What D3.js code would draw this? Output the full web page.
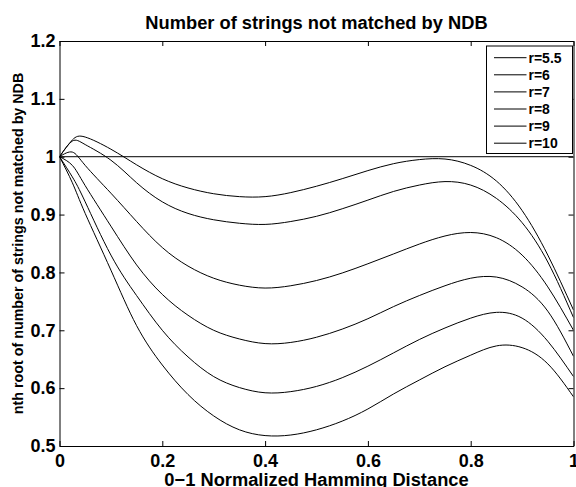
<!DOCTYPE html>
<html>
<head>
<meta charset="utf-8">
<script src="https://cdn.jsdelivr.net/npm/d3@7"></script>
<style>
  body { margin: 0; background: #fff; }
  text { font-family: "Liberation Sans", Arial, Helvetica, sans-serif; font-weight: bold; fill: #000; }
  .axis path, .axis line { stroke: #000; stroke-width: 1; }
</style>
</head>
<body>
<div id="chart"></div>
<script>
// Hamming distance samples (0-1 normalized)
const xs = [0, 0.025, 0.05, 0.1, 0.15, 0.2, 0.25, 0.3, 0.35, 0.4, 0.45, 0.5,
            0.55, 0.6, 0.65, 0.7, 0.75, 0.8, 0.85, 0.9, 0.95, 1];

// nth root of number of strings not matched
const r55 = [1.000, 1.029, 1.034, 1.013, 0.986, 0.962, 0.946, 0.936, 0.931, 0.931, 0.938, 0.949,
             0.962, 0.976, 0.988, 0.995, 0.996, 0.985, 0.958, 0.907, 0.830, 0.735];
const r6  = [1.000, 1.027, 1.021, 0.994, 0.955, 0.922, 0.902, 0.891, 0.885, 0.883, 0.888, 0.897,
             0.910, 0.925, 0.940, 0.951, 0.957, 0.951, 0.928, 0.886, 0.818, 0.722];
const r7  = [1.000, 1.008, 0.985, 0.937, 0.888, 0.843, 0.811, 0.790, 0.778, 0.773, 0.777, 0.786,
             0.799, 0.815, 0.832, 0.849, 0.863, 0.869, 0.860, 0.830, 0.775, 0.700];
const r8  = [1.000, 0.985, 0.950, 0.880, 0.813, 0.762, 0.726, 0.700, 0.685, 0.677, 0.679, 0.688,
             0.702, 0.720, 0.741, 0.760, 0.777, 0.790, 0.792, 0.775, 0.733, 0.655];
const r9  = [1.000, 0.965, 0.922, 0.830, 0.760, 0.700, 0.654, 0.620, 0.601, 0.592, 0.594, 0.603,
             0.618, 0.638, 0.661, 0.684, 0.704, 0.721, 0.731, 0.721, 0.681, 0.620];
const r10 = [1.000, 0.955, 0.902, 0.804, 0.708, 0.640, 0.589, 0.552, 0.528, 0.518, 0.519, 0.528,
             0.543, 0.564, 0.590, 0.614, 0.637, 0.657, 0.673, 0.670, 0.642, 0.585];

const seriesNames = ["r=5.5", "r=6", "r=7", "r=8", "r=9", "r=10"];
const seriesValues = [r55, r6, r7, r8, r9, r10];

// reference line at 1
const refX = [0, 1];
const refY = [1, 1];

const xTicks = [0, 0.2, 0.4, 0.6, 0.8, 1];
const xTickLabels = ["0", "0.2", "0.4", "0.6", "0.8", "1"];
const yTicks = [0.5, 0.6, 0.7, 0.8, 0.9, 1.0, 1.1, 1.2];
const yTickLabels = ["0.5", "0.6", "0.7", "0.8", "0.9", "1", "1.1", "1.2"];

const W = 576, H = 487;
const plot = {left: 59.5, right: 573.5, top: 41, bottom: 446};

const svg = d3.select("#chart")
    .append("svg")
    .attr("width", W)
    .attr("height", H);

const x = d3.scaleLinear().domain([0, 1]).range([plot.left, plot.right]);
const y = d3.scaleLinear().domain([0.5, 1.2]).range([plot.bottom, plot.top]);

svg.append("defs").append("clipPath")
    .attr("id", "clip")
  .append("rect")
    .attr("x", plot.left).attr("y", plot.top)
    .attr("width", plot.right - plot.left)
    .attr("height", plot.bottom - plot.top);

const line = d3.line()
    .x(d => x(d[0]))
    .y(d => y(d[1]))
    .curve(d3.curveNatural);

const curves = svg.append("g")
    .attr("clip-path", "url(#clip)")
    .attr("fill", "none")
    .attr("stroke", "#000")
    .attr("stroke-width", 1);

curves.append("path")
    .attr("d", d3.line().x(d => x(d[0])).y(d => y(d[1]))(refX.map((v, i) => [v, refY[i]])));

curves.selectAll(".series")
    .data(seriesValues)
    .join("path")
    .attr("class", "series")
    .attr("d", vals => line(xs.map((v, i) => [v, vals[i]])));

// axes (ticks point inward, box on all four sides)
svg.append("g")
    .attr("class", "axis")
    .attr("transform", `translate(0,${plot.bottom})`)
    .call(d3.axisBottom(x).tickValues(xTicks).tickFormat((d, i) => xTickLabels[i])
        .tickSizeInner(-5).tickSizeOuter(0).tickPadding(8))
    .call(g => g.selectAll("text").style("font-size", "18px"));

svg.append("g")
    .attr("class", "axis")
    .attr("transform", `translate(0,${plot.top})`)
    .call(d3.axisTop(x).tickValues(xTicks).tickFormat("")
        .tickSizeInner(-5).tickSizeOuter(0));

svg.append("g")
    .attr("class", "axis")
    .attr("transform", `translate(${plot.left},0)`)
    .call(d3.axisLeft(y).tickValues(yTicks).tickFormat((d, i) => yTickLabels[i])
        .tickSizeInner(-5).tickSizeOuter(0).tickPadding(4))
    .call(g => g.selectAll("text").style("font-size", "18px"));

svg.append("g")
    .attr("class", "axis")
    .attr("transform", `translate(${plot.right},0)`)
    .call(d3.axisRight(y).tickValues(yTicks).tickFormat("")
        .tickSizeInner(-5).tickSizeOuter(0));

svg.selectAll(".axis text").attr("font-family", null).attr("font-size", null);

// titles
svg.append("text")
    .attr("x", (plot.left + plot.right) / 2)
    .attr("y", 28.5)
    .attr("text-anchor", "middle")
    .style("font-size", "18.3px")
    .text("Number of strings not matched by NDB");

svg.append("text")
    .attr("x", (plot.left + plot.right) / 2)
    .attr("y", 486)
    .attr("text-anchor", "middle")
    .style("font-size", "18.3px")
    .text("0\u22121 Normalized Hamming Distance");

svg.append("text")
    .attr("transform", `translate(23,${(plot.top + plot.bottom) / 2}) rotate(-90)`)
    .attr("text-anchor", "middle")
    .style("font-size", "14.3px")
    .text("nth root of number of strings not matched by NDB");

// legend
const legend = svg.append("g").attr("transform", "translate(486.5,46)");
legend.append("rect")
    .attr("width", 86).attr("height", 107.5)
    .attr("fill", "#fff").attr("stroke", "#000").attr("stroke-width", 1);

const rows = legend.selectAll(".row")
    .data(seriesNames)
    .join("g")
    .attr("class", "row")
    .attr("transform", (d, i) => `translate(0,${11.7 + i * 17.1})`);

rows.append("line")
    .attr("x1", 7.5).attr("x2", 40)
    .attr("stroke", "#000").attr("stroke-width", 1);

rows.append("text")
    .attr("x", 42)
    .attr("dy", "0.36em")
    .style("font-size", "14px")
    .text(d => d);
</script>
</body>
</html>
